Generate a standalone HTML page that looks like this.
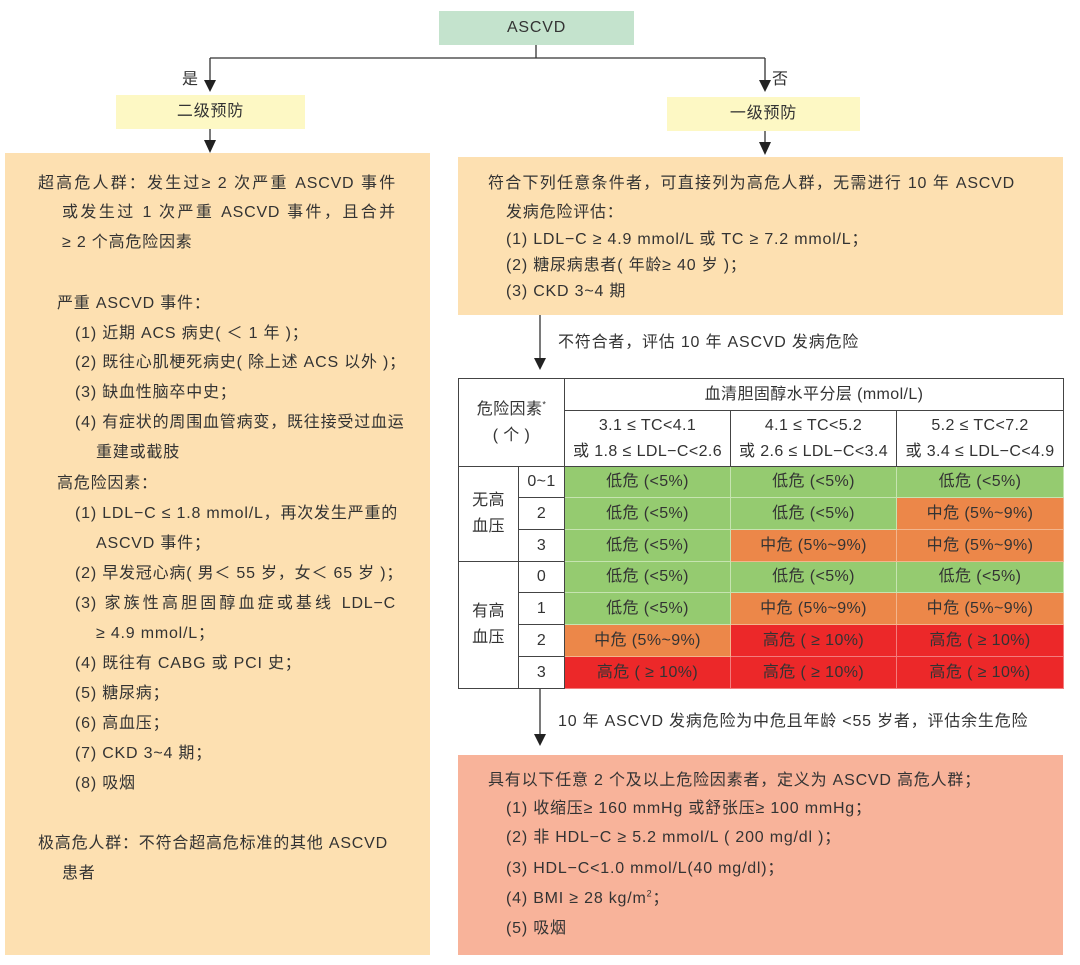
<!DOCTYPE html>
<html><head><meta charset="utf-8"><style>
body{margin:0;width:1080px;height:965px;background:#fff;position:relative;overflow:hidden;font-family:"Liberation Sans","Noto Sans CJK SC",sans-serif;color:#333;font-size:16px;letter-spacing:0.8px}
.a{position:absolute;white-space:nowrap;line-height:20px}
.j{text-align:justify;text-align-last:justify;white-space:normal}
.box{position:absolute}
sup{line-height:0}
table{position:absolute;left:458px;top:378px;width:605px;border-collapse:collapse;table-layout:fixed;font-size:16px;letter-spacing:0.4px}
td{text-align:center;padding:0;line-height:20px;white-space:nowrap}
.g{background:#95cb70;border:1px solid #c6e4b0}
.o{background:#ec8749;border:1px solid #f3b58d}
.r{background:#ec2829;border:1px solid #f37c7c}
.w{border:1px solid #444;background:#fff}
</style></head><body>
<svg width="1080" height="965" style="position:absolute;left:0;top:0">
<g stroke="#333" stroke-width="1.3" fill="none">
<path d="M536 45V58M210 58H765M210 58V80M765 58V80M210 129V140M765 131V142M540 315V358M540 688V734"/>
</g>
<g fill="#222">
<path d="M204 80h12l-6 12z"/><path d="M759 80h12l-6 12z"/>
<path d="M204 140h12l-6 13z"/><path d="M759 142h12l-6 13z"/>
<path d="M534 358h12l-6 12z"/><path d="M534 734h12l-6 12z"/>
</g>
</svg>
<div class="box" style="left:439px;top:11px;width:195px;height:34px;background:#c4e3cd"></div>
<div class="a" style="left:439px;top:18px;width:195px;text-align:center">ASCVD</div>
<div class="a" style="left:182px;top:70px">是</div>
<div class="a" style="left:772px;top:70px">否</div>
<div class="box" style="left:116px;top:95px;width:189px;height:34px;background:#fdf8c4"></div>
<div class="a" style="left:116px;top:102px;width:189px;text-align:center">二级预防</div>
<div class="box" style="left:667px;top:97px;width:193px;height:34px;background:#fdf8c4"></div>
<div class="a" style="left:667px;top:104px;width:193px;text-align:center">一级预防</div>

<div class="box" style="left:5px;top:153px;width:425px;height:802px;background:#fde0b1"></div>
<div class="a j" style="left:38px;top:174px;width:358px">超高危人群：发生过≥ 2 次严重 ASCVD 事件</div>
<div class="a j" style="left:62px;top:203px;width:334px">或发生过 1 次严重 ASCVD 事件，且合并</div>
<div class="a" style="left:62px;top:233px">≥ 2 个高危险因素</div>
<div class="a" style="left:57px;top:294px">严重 ASCVD 事件：</div>
<div class="a" style="left:75px;top:324px">(1) 近期 ACS 病史( ＜ 1 年 )；</div>
<div class="a" style="left:75px;top:353px">(2) 既往心肌梗死病史( 除上述 ACS 以外 )；</div>
<div class="a" style="left:75px;top:383px">(3) 缺血性脑卒中史；</div>
<div class="a" style="left:75px;top:413px">(4) 有症状的周围血管病变，既往接受过血运</div>
<div class="a" style="left:96px;top:443px">重建或截肢</div>
<div class="a" style="left:57px;top:474px">高危险因素：</div>
<div class="a" style="left:75px;top:504px">(1) LDL−C ≤ 1.8 mmol/L，再次发生严重的</div>
<div class="a" style="left:96px;top:534px">ASCVD 事件；</div>
<div class="a" style="left:75px;top:564px">(2) 早发冠心病( 男＜ 55 岁，女＜ 65 岁 )；</div>
<div class="a j" style="left:75px;top:594px;width:321px">(3) 家族性高胆固醇血症或基线 LDL−C</div>
<div class="a" style="left:96px;top:624px">≥ 4.9 mmol/L；</div>
<div class="a" style="left:75px;top:654px">(4) 既往有 CABG 或 PCI 史；</div>
<div class="a" style="left:75px;top:684px">(5) 糖尿病；</div>
<div class="a" style="left:75px;top:714px">(6) 高血压；</div>
<div class="a" style="left:75px;top:744px">(7) CKD 3~4 期；</div>
<div class="a" style="left:75px;top:774px">(8) 吸烟</div>
<div class="a" style="left:38px;top:834px">极高危人群：不符合超高危标准的其他 ASCVD</div>
<div class="a" style="left:62px;top:864px">患者</div>

<div class="box" style="left:458px;top:157px;width:605px;height:158px;background:#fde0b1"></div>
<div class="a j" style="left:488px;top:174px;width:527px">符合下列任意条件者，可直接列为高危人群，无需进行 10 年 ASCVD</div>
<div class="a" style="left:506px;top:203px">发病危险评估：</div>
<div class="a" style="left:506px;top:230px">(1) LDL−C ≥ 4.9 mmol/L 或 TC ≥ 7.2 mmol/L；</div>
<div class="a" style="left:506px;top:256px">(2) 糖尿病患者( 年龄≥ 40 岁 )；</div>
<div class="a" style="left:506px;top:282px">(3) CKD 3~4 期</div>
<div class="a" style="left:558px;top:333px">不符合者，评估 10 年 ASCVD 发病危险</div>

<table>
<colgroup><col style="width:60px"><col style="width:46px"><col style="width:166px"><col style="width:166px"><col style="width:167px"></colgroup>
<tr style="height:32px"><td class="w" colspan="2" rowspan="2" style="line-height:26px">危险因素<sup style="font-size:9px">*</sup><br>( 个 )</td><td class="w" colspan="3">血清胆固醇水平分层 (mmol/L)</td></tr>
<tr style="height:56px"><td class="w" style="line-height:26px">3.1 ≤ TC&lt;4.1<br>或 1.8 ≤ LDL−C&lt;2.6</td><td class="w" style="line-height:26px">4.1 ≤ TC&lt;5.2<br>或 2.6 ≤ LDL−C&lt;3.4</td><td class="w" style="line-height:26px">5.2 ≤ TC&lt;7.2<br>或 3.4 ≤ LDL−C&lt;4.9</td></tr>
<tr style="height:31px"><td class="w" rowspan="3" style="line-height:26px">无高<br>血压</td><td class="w">0~1</td><td class="g">低危 (&lt;5%)</td><td class="g">低危 (&lt;5%)</td><td class="g">低危 (&lt;5%)</td></tr>
<tr style="height:32px"><td class="w">2</td><td class="g">低危 (&lt;5%)</td><td class="g">低危 (&lt;5%)</td><td class="o">中危 (5%~9%)</td></tr>
<tr style="height:32px"><td class="w">3</td><td class="g">低危 (&lt;5%)</td><td class="o">中危 (5%~9%)</td><td class="o">中危 (5%~9%)</td></tr>
<tr style="height:31px"><td class="w" rowspan="4" style="line-height:26px">有高<br>血压</td><td class="w">0</td><td class="g">低危 (&lt;5%)</td><td class="g">低危 (&lt;5%)</td><td class="g">低危 (&lt;5%)</td></tr>
<tr style="height:32px"><td class="w">1</td><td class="g">低危 (&lt;5%)</td><td class="o">中危 (5%~9%)</td><td class="o">中危 (5%~9%)</td></tr>
<tr style="height:32px"><td class="w">2</td><td class="o">中危 (5%~9%)</td><td class="r">高危 ( ≥ 10%)</td><td class="r">高危 ( ≥ 10%)</td></tr>
<tr style="height:32px"><td class="w">3</td><td class="r">高危 ( ≥ 10%)</td><td class="r">高危 ( ≥ 10%)</td><td class="r">高危 ( ≥ 10%)</td></tr>
</table>

<div class="a" style="left:558px;top:712px">10 年 ASCVD 发病危险为中危且年龄 &lt;55 岁者，评估余生危险</div>
<div class="box" style="left:458px;top:755px;width:605px;height:200px;background:#f8b39a"></div>
<div class="a" style="left:488px;top:771px">具有以下任意 2 个及以上危险因素者，定义为 ASCVD 高危人群；</div>
<div class="a" style="left:506px;top:799px">(1) 收缩压≥ 160 mmHg 或舒张压≥ 100 mmHg；</div>
<div class="a" style="left:506px;top:828px">(2) 非 HDL−C ≥ 5.2 mmol/L ( 200 mg/dl )；</div>
<div class="a" style="left:506px;top:859px">(3) HDL−C&lt;1.0 mmol/L(40 mg/dl)；</div>
<div class="a" style="left:506px;top:889px">(4) BMI ≥ 28 kg/m<sup style="font-size:9px">2</sup>；</div>
<div class="a" style="left:506px;top:919px">(5) 吸烟</div>
</body></html>
